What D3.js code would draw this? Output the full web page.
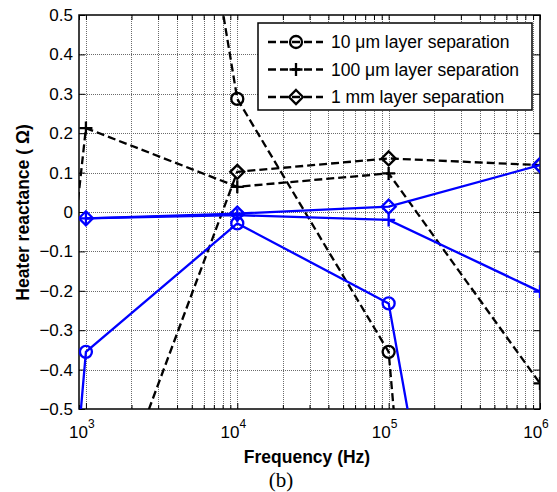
<!DOCTYPE html>
<html>
<head>
<meta charset="utf-8">
<script src="https://cdn.jsdelivr.net/npm/d3@7"></script>
<style>
  body { margin: 0; background: #fff; }
  svg { display: block; }
</style>
</head>
<body>
<div id="chart"></div>
<script>
// frequencies (Hz) and the reactance (null = no point)
const freqs = [1e2, 1e3, 1e4, 1e5, 1e6]
const dash10um  = [null, 2.6, 0.287, -0.355, -4.75]
const dash100um = [-3.3, 0.213, 0.064, 0.098, -0.435]
const dash1mm   = [null, -0.93, 0.102, 0.136, 0.119]
const blue10um  = [-4.75, -0.355, -0.029, -0.232, -2.38]
const blue100um = [null, -0.016, -0.008, -0.02, -0.202]
const blue1mm   = [null, -0.016, -0.004, 0.0135, 0.119]
const legendLabels = ['10 \u03bcm layer separation', '100 \u03bcm layer separation', '1 mm layer separation']
const yTicks = [0.5, 0.4, 0.3, 0.2, 0.1, 0, -0.1, -0.2, -0.3, -0.4, -0.5]
const xTicks = [1e3, 1e4, 1e5, 1e6]

const width = 557
const height = 492
const margin = { top: 15, bottom: 83, left: 79, right: 17 }

const svg = d3.select('#chart')
    .append('svg')
    .attr('width', width)
    .attr('height', height)
    .style('font-family', 'Liberation Sans, Arial, sans-serif')

const x = d3.scaleLog()
    .domain([900, 1e6])
    .range([margin.left, width - margin.right])

const y = d3.scaleLinear()
    .domain([-0.5, 0.5])
    .range([height - margin.bottom, margin.top])

const x0 = margin.left, x1 = width - margin.right
const y0 = margin.top, y1 = height - margin.bottom

svg.append('clipPath').attr('id', 'clip')
    .append('rect')
    .attr('x', x0).attr('y', y0).attr('width', x1 - x0).attr('height', y1 - y0)

// dotted grid
const grid = svg.append('g')
    .attr('stroke', '#6a6a6a')
    .attr('stroke-width', 1)
    .attr('stroke-dasharray', '1,1')
grid.selectAll('.gx')
    .data(x.ticks().filter(d => d > 900 && d < 1e6))
    .join('line')
    .attr('x1', d => Math.round(x(d)) + 0.5).attr('x2', d => Math.round(x(d)) + 0.5)
    .attr('y1', y0).attr('y2', y1)
grid.selectAll('.gy')
    .data(yTicks.slice(1, -1))
    .join('line')
    .attr('x1', x0).attr('x2', x1)
    .attr('y1', d => Math.round(y(d)) + 0.5).attr('y2', d => Math.round(y(d)) + 0.5)

// axes with inward ticks
function xAxis(g) {
    g.attr('transform', `translate(0,${y1})`)
        .call(d3.axisBottom(x).tickValues(x.ticks()).tickSize(-5).tickFormat(''))
        .call(g => g.select('.domain').remove())
        .call(g => g.selectAll('.tick line').attr('y2', d => xTicks.includes(d) ? -6 : -4))
}
function xAxisTop(g) {
    g.attr('transform', `translate(0,${y0})`)
        .call(d3.axisTop(x).tickValues(x.ticks()).tickSize(-5).tickFormat(''))
        .call(g => g.select('.domain').remove())
}
function yAxis(g) {
    g.attr('transform', `translate(${x0},0)`)
        .call(d3.axisLeft(y).tickValues(yTicks).tickSize(-6).tickPadding(6)
            .tickFormat(d => d === 0 ? '0' : d3.format('.1f')(d)))
        .attr('font-size', '17px')
        .attr('font-family', null)
        .call(g => g.select('.domain').remove())
        .call(g => g.selectAll('.tick text').attr('fill', '#000'))
}
function yAxisRight(g) {
    g.attr('transform', `translate(${x1},0)`)
        .call(d3.axisRight(y).tickValues(yTicks).tickSize(-6).tickFormat(''))
        .call(g => g.select('.domain').remove())
}
svg.append('g').call(xAxis)
svg.append('g').call(xAxisTop)
svg.append('g').call(yAxis)
svg.append('g').call(yAxisRight)

// x tick labels 10^n
const xl = svg.append('g').attr('font-size', '17px')
xTicks.forEach(t => {
    const txt = xl.append('text')
        .attr('x', x(t) - 4)
        .attr('y', y1 + 29)
        .attr('text-anchor', 'middle')
    txt.append('tspan').text('10')
    txt.append('tspan').attr('dy', -10).attr('font-size', '12px').text(Math.log10(t))
})

// box
svg.append('rect')
    .attr('x', x0).attr('y', y0).attr('width', x1 - x0).attr('height', y1 - y0)
    .attr('fill', 'none').attr('stroke', '#000').attr('stroke-width', 1.5)

const plot = svg.append('g').attr('clip-path', 'url(#clip)')

function pts(vals) {
    return freqs.map((f, i) => ({ f, v: vals[i] })).filter(d => d.v !== null)
}
const line = d3.line().x(d => x(d.f)).y(d => y(d.v))

const series = [
    { vals: dash10um, color: '#000', dash: '8,4', marker: 'circle' },
    { vals: dash100um, color: '#000', dash: '8,4', marker: 'plus' },
    { vals: dash1mm, color: '#000', dash: '8,4', marker: 'diamond' },
    { vals: blue10um, color: '#0000ff', dash: null, marker: 'circle' },
    { vals: blue100um, color: '#0000ff', dash: null, marker: 'plus' },
    { vals: blue1mm, color: '#0000ff', dash: null, marker: 'diamond' }
]

function drawMarker(g, kind, cx, cy, color) {
    if (kind === 'circle') {
        g.append('circle').attr('cx', cx).attr('cy', cy).attr('r', 6)
            .attr('fill', 'none').attr('stroke', color).attr('stroke-width', 2.3)
    } else if (kind === 'plus') {
        g.append('path').attr('d', `M${cx - 6.5},${cy}H${cx + 6.5}M${cx},${cy - 6.5}V${cy + 6.5}`)
            .attr('stroke', color).attr('stroke-width', 2.3)
    } else {
        g.append('path').attr('d', `M${cx},${cy - 7}L${cx + 7},${cy}L${cx},${cy + 7}L${cx - 7},${cy}Z`)
            .attr('fill', 'none').attr('stroke', color).attr('stroke-width', 2.3)
    }
}

series.forEach(s => {
    const p = pts(s.vals)
    plot.append('path')
        .datum(p)
        .attr('d', line)
        .attr('fill', 'none')
        .attr('stroke', s.color)
        .attr('stroke-width', 2.3)
        .attr('stroke-dasharray', s.dash)
    p.filter(d => d.f >= 900).forEach(d => drawMarker(plot, s.marker, x(d.f), y(d.v), s.color))
})

// legend
const lg = svg.append('g')
lg.append('rect')
    .attr('x', 258).attr('y', 23).attr('width', 274).attr('height', 87)
    .attr('fill', '#fff').attr('stroke', '#000').attr('stroke-width', 1.5)
const markers = ['circle', 'plus', 'diamond']
legendLabels.forEach((t, i) => {
    const ly = 42 + i * 27.5
    lg.append('line')
        .attr('x1', 268).attr('x2', 323).attr('y1', ly).attr('y2', ly)
        .attr('stroke', '#000').attr('stroke-width', 2.3).attr('stroke-dasharray', '8,4')
    drawMarker(lg, markers[i], 296, ly, '#000')
    lg.append('text')
        .attr('x', 331).attr('y', ly + 6)
        .attr('font-size', '17.5px')
        .text(t)
})

// labels
svg.append('text')
    .attr('transform', `translate(28.5,212.5) rotate(-90)`)
    .attr('text-anchor', 'middle')
    .attr('font-size', '17.5px').attr('font-weight', 'bold')
    .text('Heater reactance (  \u03a9)')
svg.append('text')
    .attr('x', 307).attr('y', 463)
    .attr('text-anchor', 'middle')
    .attr('font-size', '17.5px').attr('font-weight', 'bold')
    .text('Frequency (Hz)')
svg.append('text')
    .attr('x', 281).attr('y', 487)
    .attr('text-anchor', 'middle')
    .attr('font-size', '21px')
    .attr('font-family', 'Liberation Serif, Times New Roman, serif')
    .text('(b)')
</script>
</body>
</html>
